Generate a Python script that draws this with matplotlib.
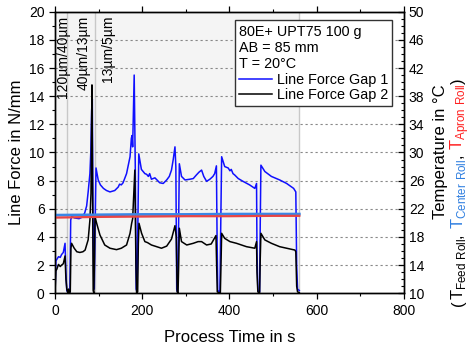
import numpy as np
import matplotlib
matplotlib.use('Agg')
import matplotlib.pyplot as plt
from matplotlib.lines import Line2D
from matplotlib.ticker import MultipleLocator

plt.rcParams['font.family'] = ['Liberation Sans', 'DejaVu Sans']
plt.rcParams['mathtext.fontset'] = 'custom'
plt.rcParams['mathtext.rm'] = 'Liberation Sans'

# line force gap 1 (blue)
t_gap1 = [0, 2, 4, 8, 12, 15, 19, 23, 25, 27, 30, 34, 36, 38, 45, 55, 62, 68, 72.5, 76,
          80, 82, 84, 85.5, 87, 89, 90, 92, 94, 99, 104, 111, 118, 126, 137, 145, 148, 152,
          156, 164, 172, 175, 176.5, 178, 181.5, 184, 186, 188, 190, 192, 198, 206, 210,
          214, 217, 221, 229, 240, 248, 256, 262, 267, 271, 275, 277, 279, 281, 283, 285,
          290, 298, 309, 317, 324, 330, 336, 341, 347.5, 355, 362, 366, 370, 371.5, 373,
          378, 380, 382, 389, 397, 401, 404, 408, 412, 420, 431, 446, 458, 462, 463, 465,
          469, 470.5, 472, 481, 496, 515, 531, 547, 552, 554, 556, 560]
f_gap1 = [0, 2.3, 2.4, 2.6, 2.55, 2.75, 2.9, 3.55, 1.5, 0.2, 0.05, 0.1, 5.2, 5.45, 5.35,
          5.3, 5.4, 5.7, 6.2, 7.2, 8.5, 10.0, 13.0, 13.8, 6.0, 0.4, 0.3, 5.0, 8.9, 8.05,
          7.7, 7.45, 7.3, 7.2, 7.3, 7.55, 7.75, 7.7, 7.85, 8.5, 9.7, 11.0, 11.2, 10.4, 15.5,
          9.0, 0.3, 0.1, 5.0, 9.9, 8.8, 8.5, 8.45, 8.3, 8.5, 8.1, 8.2, 7.85, 7.8, 8.05, 8.3,
          8.75, 9.5, 10.4, 9.0, 0.3, 0.1, 4.0, 9.2, 8.3, 8.05, 8.1, 8.15, 8.4, 8.6, 8.75,
          8.3, 7.95, 8.1, 8.3, 8.5, 9.05, 4.0, 0.2, 0.1, 5.0, 9.7, 9.0, 8.9, 8.7, 8.8, 8.5,
          8.4, 8.15, 7.95, 7.7, 7.45, 7.8, 3.0, 0.2, 0.1, 5.0, 9.1, 8.65, 8.3, 8.05, 7.8,
          7.45, 7.2, 2.0, 0.3, 0.2]

# line force gap 2 (black)
t_gap2 = [0, 2, 4, 8, 12, 15, 19, 23, 25, 27, 29, 31, 33, 35, 36.5, 38, 44, 50, 57, 64,
          69, 76, 80, 82.5, 84.7, 86, 87.5, 89, 90.5, 91.6, 95.5, 103, 114, 126, 141, 152,
          164, 172, 175.7, 178, 183, 185.5, 187, 189.5, 191, 192.5, 198.5, 206, 212, 221,
          233, 244, 256, 267, 275, 278, 280, 282, 283.5, 285, 290, 302, 317, 328, 336,
          347.5, 358, 369, 370.5, 372, 379, 380.5, 382, 389, 401, 416, 439, 458, 462, 463,
          465, 469, 470.5, 472, 481, 496, 515, 531, 550, 552, 554, 556, 560]
f_gap2 = [0, 1.6, 1.7, 2.05, 1.9, 2.0, 2.1, 2.65, 1.0, 0.3, 0.05, 0.3, 0.0, 0.1, 3.2,
          3.55, 3.2, 2.95, 2.9, 2.95, 3.07, 3.8, 5.2, 7.1, 14.8, 8.0, 0.2, 0.0, 2.5, 5.45,
          4.97, 4.14, 3.43, 3.2, 3.1, 3.2, 3.43, 4.26, 4.97, 5.3, 8.75, 2.0, 0.0, 0.1, 3.5,
          4.97, 4.26, 3.67, 3.6, 3.43, 3.31, 3.2, 3.35, 3.85, 4.8, 4.0, 0.1, 0.0, 2.0, 4.62,
          3.67, 3.43, 3.55, 3.67, 3.67, 3.43, 3.5, 4.1, 2.0, 0.1, 0.0, 2.0, 4.26, 3.9, 3.67,
          3.55, 3.31, 3.2, 3.67, 1.5, 0.1, 0.0, 2.5, 4.26, 3.79, 3.55, 3.31, 3.2, 3.07,
          2.95, 0.5, 0.1, 0.05]

# roll temperatures in degC
t_temp = [0, 100, 200, 300, 400, 500, 560]
temp_center = [21.1, 21.15, 21.2, 21.2, 21.25, 21.25, 21.25]
temp_apron = [20.75, 20.85, 20.9, 20.95, 20.95, 21.0, 21.0]

gap_changes = [28, 92]
process_end = 560
gap_labels = ['120µm/40µm', '40µm/13µm', '13µm/5µm']
gap_label_x = [19, 66, 121]
temp_ticks = list(range(10, 51, 4))

fig = plt.figure(figsize=(4.73, 3.47), dpi=100)
ax = fig.add_axes([0.1163, 0.1548, 0.7378, 0.8115])
ax2 = ax.twinx()

ax.axvspan(0, process_end, color='#f4f4f4', zorder=0, lw=0)
for xv in gap_changes + [process_end]:
    ax.axvline(xv, color='#c8c8c8', lw=1, zorder=1)
for yv in range(2, 20, 2):
    ax.axhline(yv, color='#888888', lw=0.8, ls=(0, (2, 2.5)), zorder=1)

ax.plot(t_gap1, f_gap1, color='#1010ff', lw=1.1, zorder=3)
ax.plot(t_gap2, f_gap2, color='black', lw=1.1, zorder=3)

ax2.plot(t_temp, temp_center, color='#3a86e6', lw=2)
ax2.plot(t_temp, temp_apron, color='#e84444', lw=1.6)

for lab, xl in zip(gap_labels, gap_label_x):
    ax.text(xl, 19.7, lab, rotation=90, ha='center', va='top', fontsize=10, zorder=4)

ax.set_xlim(0, 800)
ax.set_ylim(0, 20)
ax2.set_ylim(10, 50)
ax.xaxis.set_major_locator(MultipleLocator(200))
ax.xaxis.set_minor_locator(MultipleLocator(100))
ax.yaxis.set_major_locator(MultipleLocator(2))
ax.yaxis.set_minor_locator(MultipleLocator(1))
ax2.set_yticks(temp_ticks)
ax2.yaxis.set_minor_locator(MultipleLocator(1))

ax.tick_params(axis='both', which='both', labelsize=10, direction='out')
ax.tick_params(axis='x', which='both', top=True, labeltop=False)
ax.tick_params(which='major', length=4, width=0.9)
ax.tick_params(which='minor', length=2.5, width=0.8)
ax2.tick_params(axis='y', which='both', labelsize=10, direction='in')
ax2.tick_params(which='major', length=4, width=0.9)
ax2.tick_params(which='minor', length=2.5, width=0.8)

for sp in list(ax.spines.values()) + list(ax2.spines.values()):
    sp.set_linewidth(1.0)

ax.set_xlabel('Process Time in s', fontsize=12, labelpad=9)
fig.text(17 / 473, 1 - 152 / 347, 'Line Force in N/mm', rotation=90, ha='center',
         va='center', fontsize=12)
fig.text(440 / 473, 1 - 152 / 347, 'Temperature in °C', rotation=90, ha='center',
         va='center', fontsize=12)

handles = [Line2D([], [], color='#1010ff', lw=1.1), Line2D([], [], color='black', lw=1.1)]
leg = ax.legend(handles, ['Line Force Gap 1', 'Line Force Gap 2'],
                title='80E+ UPT75 100 g\nAB = 85 mm\nT = 20°C', title_fontsize=10.4,
                fontsize=10.4, loc='upper right', bbox_to_anchor=(0.967, 0.969),
                fancybox=False, edgecolor='#333333', framealpha=1, alignment='left',
                handlelength=2.3, handletextpad=0.3, borderpad=0.3, labelspacing=0.1,
                borderaxespad=0)
leg.get_frame().set_linewidth(1.0)
leg.set_zorder(5)

# coloured second line of the right axis label, built piece by piece
pieces = [('(', 'black'), (r'T$_{\mathregular{Feed\ Roll}}$', 'black'), (', ', 'black'),
          (r'T$_{\mathregular{Center\ Roll}}$', '#2f7fe0'), (', ', 'black'),
          (r'T$_{\mathregular{Apron\ Roll}}$', '#ff2020'), (')', 'black')]
renderer = fig.canvas.get_renderer()
texts = []
for s, c in pieces:
    tx = fig.text(0, 0, s, color=c, fontsize=12, rotation=90, rotation_mode='anchor',
                  ha='left', va='baseline')
    texts.append(tx)
heights = [tx.get_window_extent(renderer).height for tx in texts]
total = sum(heights)
y0 = (347 - 192) - total / 2
xb = 463 / 473
for tx, h in zip(texts, heights):
    tx.set_position((xb, y0 / 347))
    y0 += h

fig.savefig('out.png', dpi=100)
